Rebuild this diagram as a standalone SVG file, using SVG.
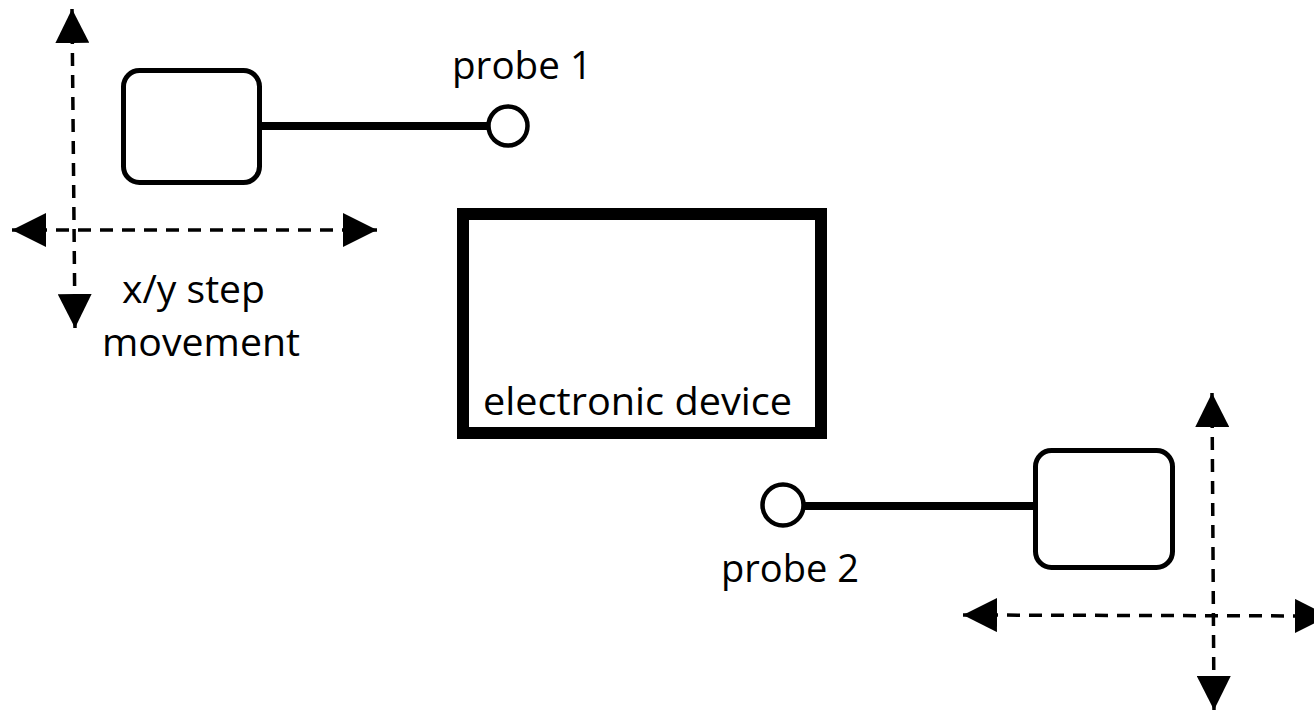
<svg xmlns="http://www.w3.org/2000/svg" width="1314" height="711" viewBox="0 0 1314 711">
  <style>
    .lbl { font-family: "Open Sans", "Noto Sans", "Liberation Sans", sans-serif; font-size: 39px; fill: #000; }
    .dash { stroke: #000; stroke-width: 3.5; stroke-dasharray: 13 9; fill: none; }
    .stage { fill: #fff; stroke: #000; stroke-width: 5; }
    .probe { fill: #fff; stroke: #000; stroke-width: 4.5; }
    .arm { stroke: #000; stroke-width: 8; }
  </style>
  <defs>
    <marker id="ah" viewBox="0 0 34 34" refX="34" refY="17" markerWidth="34" markerHeight="34" markerUnits="userSpaceOnUse" orient="auto-start-reverse">
      <path d="M0,0 L34,17 L0,34 z" fill="#000"/>
    </marker>
  </defs>
  <rect width="1314" height="711" fill="#fff"/>

  <g id="connectors">
    <line class="dash" x1="72" y1="9" x2="75" y2="328" marker-start="url(#ah)" marker-end="url(#ah)"/>
    <line class="dash" x1="12" y1="230" x2="377" y2="230" marker-start="url(#ah)" marker-end="url(#ah)"/>
    <line class="dash" x1="1212" y1="393" x2="1214" y2="710" marker-start="url(#ah)" marker-end="url(#ah)"/>
    <line class="dash" x1="963" y1="615" x2="1329" y2="616" marker-start="url(#ah)" marker-end="url(#ah)"/>
    <line class="arm" x1="262" y1="126" x2="489" y2="126"/>
    <line class="arm" x1="805" y1="506" x2="1034" y2="506"/>
  </g>

  <g id="stage1">
    <rect class="stage" x="123.5" y="70.5" width="136" height="112" rx="16"/>
  </g>
  <g id="probe1">
    <circle class="probe" cx="508" cy="126" r="19.5"/>
    <text class="lbl" x="452" y="79" textLength="140" lengthAdjust="spacingAndGlyphs">probe 1</text>
  </g>
  <g id="device">
    <rect x="463" y="214" width="358" height="219" fill="none" stroke="#000" stroke-width="12"/>
    <text class="lbl" x="483" y="415" textLength="309" lengthAdjust="spacingAndGlyphs">electronic device</text>
  </g>
  <g id="movement-label">
    <text class="lbl" x="122" y="303" textLength="143" lengthAdjust="spacingAndGlyphs">x/y step</text>
    <text class="lbl" x="102" y="356" textLength="198" lengthAdjust="spacingAndGlyphs">movement</text>
  </g>
  <g id="probe2">
    <circle class="probe" cx="783" cy="505" r="20.5"/>
    <text class="lbl" x="721" y="582" textLength="138" lengthAdjust="spacingAndGlyphs">probe 2</text>
  </g>
  <g id="stage2">
    <rect class="stage" x="1035.5" y="450.5" width="137" height="117" rx="16"/>
  </g>
</svg>
